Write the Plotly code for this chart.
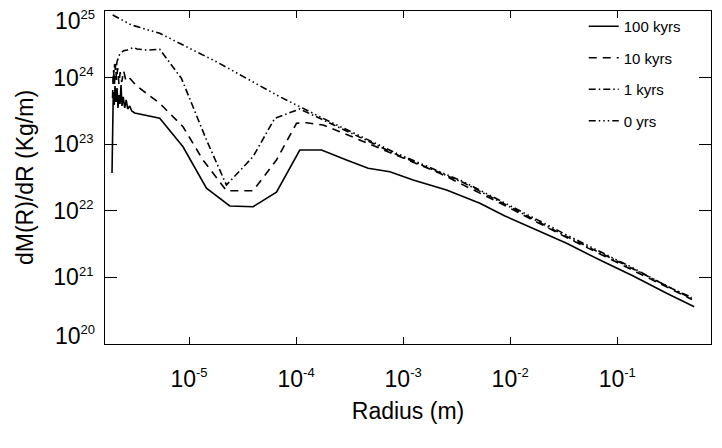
import plotly.graph_objects as go

# ---- data (Radius in m, dM/dR in kg/m) ----
r_100k = [1.908e-6, 1.936e-6, 1.961e-6, 2.000e-6, 2.034e-6, 2.079e-6, 2.124e-6, 2.170e-6,
          2.218e-6, 2.266e-6, 2.315e-6, 2.365e-6, 2.427e-6, 2.507e-6, 2.589e-6, 2.674e-6,
          2.791e-6, 2.914e-6, 3.108e-6, 5.323e-6, 8.787e-6, 1.454e-5, 2.401e-5, 3.964e-5,
          6.559e-5, 1.083e-4, 1.728e-4, 2.958e-4, 4.709e-4, 7.509e-4, 1.240e-3, 2.544e-3,
          5.211e-3, 8.923e-3, 1.641e-2, 3.366e-2, 6.891e-2, 1.411e-1, 2.895e-1, 5.245e-1]
m_100k = [3.70e22, 2.31e23, 6.08e23, 3.88e23, 7.48e23, 4.31e23, 6.98e23, 3.50e23,
          5.48e23, 4.02e23, 7.74e23, 3.75e23, 5.12e23, 3.50e23, 4.61e23, 3.38e23,
          3.75e23, 3.15e23, 2.94e23, 2.45e23, 9.16e22, 2.18e22, 1.18e22, 1.15e22,
          1.90e22, 8.18e22, 8.18e22, 5.79e22, 4.35e22, 3.86e22, 2.90e22, 2.05e22,
          1.30e22, 8.36e21, 5.46e21, 3.25e21, 1.82e21, 1.05e21, 5.77e20, 3.63e20]

r_10k = [1.928e-6, 1.970e-6, 2.012e-6, 2.056e-6, 2.101e-6, 2.156e-6, 2.213e-6, 2.275e-6,
         2.350e-6, 2.453e-6, 2.561e-6, 2.732e-6, 3.245e-6, 3.938e-6, 5.323e-6, 8.787e-6,
         1.351e-5, 2.236e-5, 3.964e-5, 6.559e-5, 1.009e-4, 1.251e-4, 1.788e-4, 2.561e-4,
         3.938e-4, 6.056e-4, 9.315e-4, 1.432e-3, 2.203e-3, 3.388e-3, 8.010e-3, 3.366e-2,
         1.411e-1, 4.991e-1]
m_10k = [4.94e23, 1.30e24, 8.02e23, 1.60e24, 9.20e23, 1.39e24, 8.02e23, 1.21e24,
         8.59e23, 1.26e24, 9.20e23, 1.02e24, 7.48e23, 5.87e23, 4.11e23, 1.83e23,
         5.79e22, 2.00e22, 2.00e22, 5.79e22, 2.06e23, 2.10e23, 1.94e23, 1.54e23,
         1.16e23, 8.67e22, 6.49e22, 4.88e22, 3.66e22, 2.59e22, 1.31e22, 3.97e21,
         1.29e21, 4.66e20]

r_1k = [1.949e-6, 2.021e-6, 2.079e-6, 2.124e-6, 2.250e-6, 2.453e-6, 2.634e-6, 3.042e-6,
        3.266e-6, 4.050e-6, 5.323e-6, 8.492e-6, 1.454e-5, 2.236e-5, 3.964e-5, 6.323e-5,
        1.083e-4, 2.065e-4, 8.677e-4, 3.637e-3, 8.010e-3, 3.366e-2, 1.411e-1, 4.959e-1]
m_1k = [8.59e23, 1.60e24, 1.30e24, 1.73e24, 2.26e24, 2.54e24, 2.59e24, 2.83e24,
        2.69e24, 2.59e24, 2.66e24, 9.75e23, 1.16e23, 2.44e22, 6.49e22, 2.45e23,
        3.38e23, 2.08e23, 7.00e22, 2.66e22, 1.38e22, 4.11e21, 1.34e21, 4.82e20]

r_0 = [1.936e-6, 2.895e-6, 5.323e-6, 1.803e-5, 7.042e-5, 2.065e-4, 8.677e-4, 3.637e-3,
       8.010e-3, 1.641e-2, 3.366e-2, 6.891e-2, 1.411e-1, 2.895e-1, 4.959e-1]
m_0 = [8.71e24, 6.17e24, 4.62e24, 1.73e24, 5.16e23, 2.18e23, 7.30e22, 2.74e22,
       1.43e22, 7.80e21, 4.34e21, 2.45e21, 1.38e21, 7.43e20, 4.99e20]

series_names = ["100 kyrs", "10 kyrs", "1 kyrs", "0 yrs"]

x_tick_vals = [1e-5, 1e-4, 1e-3, 1e-2, 1e-1]
x_tick_exp = ["-5", "-4", "-3", "-2", "-1"]
y_tick_vals = [1e20, 1e21, 1e22, 1e23, 1e24, 1e25]
y_tick_exp = ["20", "21", "22", "23", "24", "25"]

# minor tick positions (2..9 in every decade) - axis decoration only
x_minor = [k * 10.0 ** n for n in range(-6, 0) for k in range(2, 10)]
y_minor = [k * 10.0 ** n for n in range(20, 25) for k in range(2, 10)]

X_RANGE = [-5.785, -0.124]
Y_RANGE = [20, 25]


def pow_label(e):
    return "10<sup><span style='font-size:13px'>" + e + "</span></sup>"


styles = [
    dict(color="black", width=1.6, dash="solid"),
    dict(color="black", width=1.6, dash="8px,6px"),
    dict(color="black", width=1.6, dash="7px,3px,1.5px,3px"),
    dict(color="black", width=1.6, dash="7px,3px,1.5px,3px,1.5px,3px,1.5px,3px"),
]
xs = [r_100k, r_10k, r_1k, r_0]
ys = [m_100k, m_10k, m_1k, m_0]

fig = go.Figure()
for i in range(4):
    fig.add_trace(go.Scatter(x=xs[i], y=ys[i], mode="lines", name=series_names[i],
                             line=styles[i], legendgroup=series_names[i]))

FONT = "Liberation Sans"

# the end labels (10^20, 10^25) sit just inside the frame, as in the reference
y_ticktext = [pow_label(e) for e in y_tick_exp]
y_ticktext[0] = ""
y_ticktext[-1] = ""
end_labels = [
    dict(x=0, xref="paper", y=Y_RANGE[0], yref="y", text=pow_label(y_tick_exp[0]),
         showarrow=False, xanchor="right", yanchor="middle", xshift=-8, yshift=9,
         font=dict(family=FONT, size=23, color="black")),
    dict(x=0, xref="paper", y=Y_RANGE[1], yref="y", text=pow_label(y_tick_exp[-1]),
         showarrow=False, xanchor="right", yanchor="middle", xshift=-8, yshift=-9,
         font=dict(family=FONT, size=23, color="black")),
]

# the page body adds an 8px offset, so margins are shifted by 8px
fig.update_layout(
    width=722, height=448,
    margin=dict(l=97, r=19, t=3, b=112, autoexpand=False),
    paper_bgcolor="white", plot_bgcolor="white",
    font=dict(family=FONT, color="black"),
    showlegend=True,
    legend=dict(x=0.79, y=1.003, xanchor="left", yanchor="top",
                bgcolor="rgba(0,0,0,0)", font=dict(family=FONT, size=15),
                tracegroupgap=9, itemwidth=30),
    annotations=end_labels,
    # overlay axes used only to draw the short minor ticks on all four sides
    xaxis2=dict(type="log", range=X_RANGE, overlaying="x", anchor="y", side="bottom",
                showline=False, showgrid=False, zeroline=False, showticklabels=False,
                ticks="inside", ticklen=4, tickwidth=1, tickcolor="black", mirror="ticks",
                tickmode="array", tickvals=x_minor, automargin=False),
    yaxis2=dict(type="log", range=Y_RANGE, overlaying="y", anchor="x", side="left",
                showline=False, showgrid=False, zeroline=False, showticklabels=False,
                ticks="inside", ticklen=6, tickwidth=1, tickcolor="black", mirror="ticks",
                tickmode="array", tickvals=y_minor, automargin=False),
)
fig.update_layout(
    xaxis=dict(
        type="log", range=X_RANGE, automargin=False,
        showgrid=False, zeroline=False,
        showline=True, linecolor="black", linewidth=1, mirror="allticks",
        ticks="inside", ticklen=7, tickwidth=1, tickcolor="black",
        tickmode="array", tickvals=x_tick_vals, ticktext=[pow_label(e) for e in x_tick_exp],
        tickfont=dict(family=FONT, size=23), ticklabelstandoff=14,
        ticklabeloverflow="allow",
        title=dict(text="Radius (m)", font=dict(family=FONT, size=23), standoff=12),
    ),
    yaxis=dict(
        type="log", range=Y_RANGE, automargin=False,
        showgrid=False, zeroline=False,
        showline=True, linecolor="black", linewidth=1, mirror="allticks",
        ticks="inside", ticklen=12, tickwidth=1, tickcolor="black",
        tickmode="array", tickvals=y_tick_vals, ticktext=y_ticktext,
        tickfont=dict(family=FONT, size=23), ticklabelstandoff=6,
        ticklabeloverflow="allow",
        title=dict(text="dM(R)/dR (Kg/m)", font=dict(family=FONT, size=23), standoff=13),
    ),
)

fig.write_html("out.html")
